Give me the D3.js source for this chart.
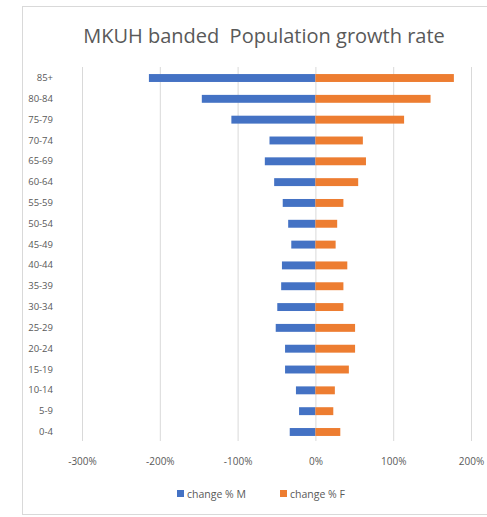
<!DOCTYPE html>
<html><head><meta charset="utf-8">
<script src="https://cdn.jsdelivr.net/npm/d3@7"></script>
<style>body{margin:0;background:#fff}svg{display:block}text{font-family:"Open Sans","Liberation Sans",sans-serif}</style>
</head><body>
<script>
const categories = ["85+","80-84","75-79","70-74","65-69","60-64","55-59","50-54","45-49","40-44","35-39","30-34","25-29","20-24","15-19","10-14","5-9","0-4"];
const changeM = [-2.14,-1.46,-1.08,-0.59,-0.65,-0.53,-0.42,-0.35,-0.31,-0.43,-0.44,-0.49,-0.51,-0.39,-0.39,-0.25,-0.21,-0.33];
const changeF = [1.78,1.48,1.14,0.61,0.65,0.55,0.36,0.28,0.26,0.41,0.36,0.36,0.51,0.51,0.43,0.25,0.23,0.32];
const tickValues = [-3,-2,-1,0,1,2];
const seriesNames = ["change % M","change % F"];
const colors = ["#4472C4","#ED7D31"];

const W=487,H=517;
const svg=d3.select("body").append("svg").attr("width",W).attr("height",H);
svg.append("rect").attr("x",22.5).attr("y",6.5).attr("width",480).attr("height",508).attr("fill","#fff").attr("stroke","#d9d9d9");

const x=d3.scaleLinear().domain([-3,2]).range([82,471]);
const y=d3.scaleBand().domain(categories).range([67.6,442.4]).paddingInner(0.62).paddingOuter(0.31);

svg.append("text").attr("x",264).attr("y",43).attr("text-anchor","middle").attr("font-size",20).attr("fill","#595959").text("MKUH banded\u00a0 Population growth rate");

const grid=svg.append("g");
grid.selectAll("line").data(tickValues).join("line")
  .attr("x1",d=>x(d)+0.5).attr("x2",d=>x(d)+0.5).attr("y1",67).attr("y2",441)
  .attr("stroke","#d9d9d9").attr("stroke-width",1);

const xAxis=d3.axisBottom(x).tickValues(tickValues).tickSize(0).tickFormat(d=>Math.round(d*100)+"%");
const gx=svg.append("g").attr("transform","translate(0,455)").call(xAxis);
gx.select(".domain").remove();
gx.selectAll("text").attr("font-size",10).attr("fill","#595959").attr("font-family","'Liberation Sans',sans-serif");

const yAxis=d3.axisLeft(y).tickSize(0);
const gy=svg.append("g").attr("transform","translate(56,0)").call(yAxis);
gy.select(".domain").remove();
gy.selectAll("text").attr("font-size",9.5).attr("fill","#595959").attr("font-family","'Liberation Sans',sans-serif");

svg.append("g").selectAll("rect").data(changeM).join("rect")
  .attr("x",d=>x(d)).attr("width",d=>x(0)-x(d))
  .attr("y",(d,i)=>y(categories[i])).attr("height",y.bandwidth()).attr("fill",colors[0]);
svg.append("g").selectAll("rect").data(changeF).join("rect")
  .attr("x",x(0)).attr("width",d=>x(d)-x(0))
  .attr("y",(d,i)=>y(categories[i])).attr("height",y.bandwidth()).attr("fill",colors[1]);

const leg=svg.append("g");
const legX=[177,280];
seriesNames.forEach((n,i)=>{
  leg.append("rect").attr("x",legX[i]).attr("y",490).attr("width",7).attr("height",7).attr("fill",colors[i]);
  leg.append("text").attr("x",legX[i]+10).attr("y",497.5).attr("font-size",10.5).attr("fill","#595959").text(n);
});
</script>
</body></html>
